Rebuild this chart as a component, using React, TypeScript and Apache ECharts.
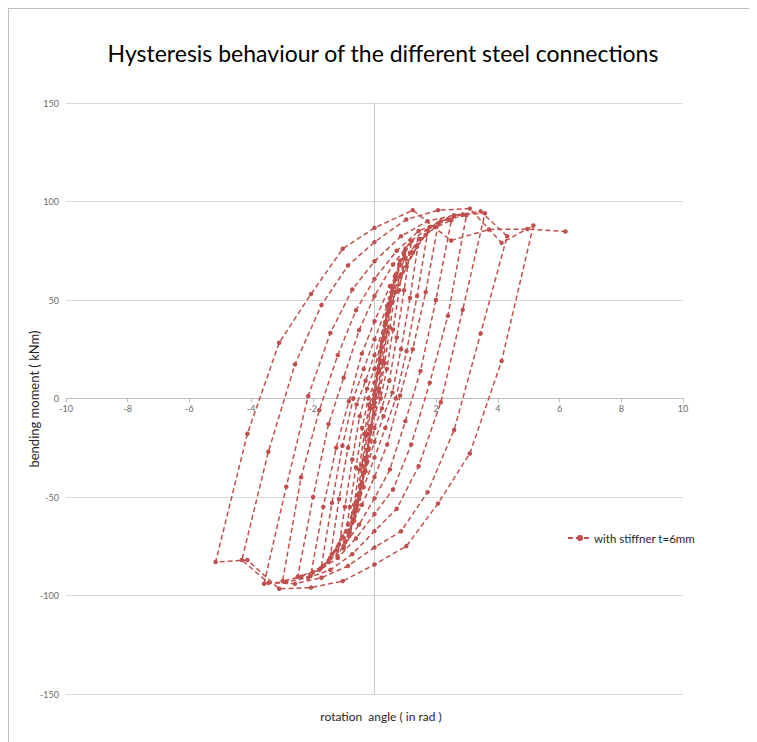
import React, { useEffect, useRef } from "react";
import * as echarts from "echarts";

// Rotation angle (x) and bending moment (y) for each loading cycle, in order.
// Each cycle: 0 -> +a -> -a -> 0 (5 + 10 + 5 displacement steps).
const cycleM = [
  [0.12, 13], [0.23, 26], [0.35, 38], [0.46, 48], [0.58, 56],
  [0.46, 44], [0.35, 31], [0.23, 18], [0.12, 5], [0, -2], [-0.12, -14], [-0.23, -26], [-0.35, -38], [-0.46, -48], [-0.58, -56],
  [-0.46, -44], [-0.35, -31], [-0.23, -18], [-0.12, -5], [0, 0],
];
const cycleL = [
  [0.14, 15], [0.28, 30], [0.41, 43], [0.55, 54], [0.69, 63],
  [0.55, 49], [0.41, 34], [0.28, 19], [0.14, 5], [0, -2], [-0.14, -16], [-0.28, -30], [-0.41, -43], [-0.55, -54], [-0.69, -62],
  [-0.55, -49], [-0.41, -34], [-0.28, -19], [-0.14, -5], [0, 2],
];
const cycleK = [
  [0.17, 20], [0.33, 37], [0.5, 51], [0.66, 62], [0.83, 70],
  [0.66, 54], [0.5, 36], [0.33, 18], [0.17, 3], [0, -4], [-0.17, -21], [-0.33, -37], [-0.5, -51], [-0.66, -62], [-0.83, -70],
  [-0.66, -54], [-0.5, -36], [-0.33, -18], [-0.17, -3], [0, 4],
];
const cycleJ = [
  [0.2, 24], [0.4, 42], [0.6, 57], [0.8, 68], [1.0, 76],
  [0.8, 55], [0.6, 35], [0.4, 15], [0.2, 0], [0, -8], [-0.2, -26], [-0.4, -43], [-0.6, -57], [-0.8, -68], [-1.0, -76],
  [-0.8, -55], [-0.6, -35], [-0.4, -15], [-0.2, 0], [0, 8],
];
const cycleI = [
  [0.24, 29], [0.48, 47], [0.72, 62], [0.96, 73], [1.2, 80],
  [0.96, 55], [0.72, 31], [0.48, 9], [0.24, -5], [0, -15], [-0.24, -32], [-0.48, -49], [-0.72, -63], [-0.96, -73], [-1.2, -80],
  [-0.96, -55], [-0.72, -31], [-0.48, -9], [-0.24, 5], [0, 15],
];
const cycleH = [
  [0.29, 33], [0.58, 49], [0.86, 63], [1.15, 74], [1.44, 81],
  [1.15, 51], [0.86, 25], [0.58, 3], [0.29, -9], [0, -22], [-0.29, -37], [-0.58, -52], [-0.86, -64], [-1.15, -74], [-1.44, -81],
  [-1.15, -51], [-0.86, -25], [-0.58, -3], [-0.29, 9], [0, 22],
];
const cycleG = [
  [0.35, 39], [0.69, 54], [1.04, 67], [1.38, 77], [1.73, 85],
  [1.38, 52], [1.04, 24], [0.69, 0], [0.35, -15], [0, -30], [-0.35, -45], [-0.69, -58], [-1.04, -70], [-1.38, -79], [-1.73, -86],
  [-1.38, -53], [-1.04, -24], [-0.69, 0], [-0.35, 15], [0, 30],
];
const cycleF = [
  [0.41, 47], [0.83, 62], [1.24, 74], [1.66, 83], [2.07, 89],
  [1.66, 54], [1.24, 25], [0.83, 1.5], [0.41, -23.4], [0, -39.8], [-0.41, -54], [-0.83, -67], [-1.24, -77], [-1.66, -85], [-2.07, -90],
  [-1.66, -55], [-1.24, -25], [-0.83, -1.4], [-0.41, 22.8], [0, 39.2],
];
const cycleE = [
  [0.5, 57], [1.0, 71], [1.49, 81], [1.99, 87], [2.49, 90.4],
  [1.99, 50], [1.49, 14], [1.0, -11.5], [0.5, -36], [0, -50.7], [-0.5, -64], [-1.0, -75], [-1.49, -83], [-1.99, -88], [-2.49, -90.5],
  [-1.99, -50], [-1.49, -13], [-1.0, 10.5], [-0.5, 34.7], [0, 52],
];
const cycleD = [
  [0.6, 68], [1.19, 80], [1.79, 87], [2.38, 91], [2.98, 93],
  [2.38, 42], [1.79, 8], [1.19, -23.4], [0.6, -46.2], [0, -58.6], [-0.6, -71], [-1.19, -81], [-1.79, -87], [-2.38, -90.5], [-2.98, -92.7],
  [-2.38, -40], [-1.79, -6], [-1.19, 22], [-0.6, 44.8], [0, 60.7],
];
const cycleC = [
  [0.72, 75], [1.43, 85], [2.15, 90], [2.86, 93.4], [3.58, 94],
  [2.86, 45], [2.15, -1.9], [1.43, -34.4], [0.72, -56], [0, -67.3], [-0.72, -79], [-1.43, -87], [-2.15, -91], [-2.86, -93], [-3.58, -94],
  [-2.86, -44.8], [-2.15, 1.2], [-1.43, 33.3], [-0.72, 55.3], [0, 69.7],
];
const cycleB = [
  [0.86, 82.4], [1.72, 90], [2.58, 93], [3.44, 95], [4.3, 82.4],
  [3.44, 33], [2.58, -16], [1.72, -47.6], [0.86, -67.4], [0, -75.6], [-0.86, -85], [-1.72, -91], [-2.58, -94], [-3.44, -93.6], [-4.3, -82],
  [-3.44, -27], [-2.58, 17.3], [-1.72, 47.4], [-0.86, 67.5], [0, 79.4],
];
const cycleA = [
  [1.03, 90.9], [2.06, 95.6], [3.09, 96.4], [4.12, 79], [5.15, 87.8],
  [4.12, 19], [3.09, -27.9], [2.06, -53.3], [1.03, -75], [0, -84.3], [-1.03, -92.7], [-2.06, -96], [-3.09, -96.6], [-4.12, -82], [-5.15, -83],
  [-4.12, -17.9], [-3.09, 28.3], [-2.06, 53], [-1.03, 76], [0, 86.6],
];
const finalRun = [
  [1.24, 95.6], [2.48, 80.2], [3.71, 85.8], [4.95, 86], [6.19, 84.8],
];

const seriesName = "with stiffner t=6mm";
const titleText = "Hysteresis behaviour of the different steel connections";
const xAxisTitle = "rotation  angle ( in rad )";
const yAxisTitle = "bending moment ( kNm)";
const xRange = { min: -10, max: 10, interval: 2 };
const yRange = { min: -150, max: 150, interval: 50 };

const FONT = "Lato";
const RED = "#c0504d";

// grid box (px inside the chart div)
const GRID_TOP = 94;
const GRID_BOTTOM = 48;
const CHART_H = 733;

export default function App() {
  const ref = useRef<HTMLDivElement>(null);

  useEffect(() => {
    if (!ref.current) return;
    const chart = echarts.init(ref.current, null, { renderer: "svg" });
    const data = [
      [0, 0],
      ...cycleM, ...cycleL, ...cycleK, ...cycleJ, ...cycleI, ...cycleH, ...cycleG,
      ...cycleF, ...cycleE, ...cycleD, ...cycleC, ...cycleB, ...cycleA, ...finalRun,
    ];
    const gridH = CHART_H - GRID_TOP - GRID_BOTTOM;
    // the horizontal axis crosses the vertical one at moment = 0
    const zeroOffset = -gridH * (0 - yRange.min) / (yRange.max - yRange.min);
    chart.setOption({
      animation: false,
      backgroundColor: "#ffffff",
      textStyle: { fontFamily: FONT },
      title: {
        text: titleText,
        left: "center",
        top: 27,
        textStyle: { fontFamily: FONT, fontSize: 23, fontWeight: "normal", color: "#000000" },
      },
      grid: { left: 57, right: 74, top: GRID_TOP, bottom: GRID_BOTTOM, containLabel: false },
      xAxis: {
        type: "value",
        position: "bottom",
        offset: zeroOffset,
        min: xRange.min,
        max: xRange.max,
        interval: xRange.interval,
        axisLine: { show: true, onZero: false, lineStyle: { color: "#bfbfbf", width: 1 } },
        axisTick: { show: true, length: 4, lineStyle: { color: "#bfbfbf" } },
        axisLabel: { fontSize: 9, color: "#6b6b6b", margin: 5, fontFamily: FONT, showMinLabel: true, showMaxLabel: true },
        splitLine: { show: false },
      },
      yAxis: {
        type: "value",
        min: yRange.min,
        max: yRange.max,
        interval: yRange.interval,
        axisLine: { show: false, onZero: false },
        axisTick: { show: false },
        axisLabel: { fontSize: 9, color: "#6b6b6b", margin: 7, fontFamily: FONT },
        splitLine: { show: true, lineStyle: { color: "#d9d9d9", width: 1 } },
      },
      legend: {
        data: [seriesName],
        left: 553,
        top: 518,
        itemWidth: 24,
        itemHeight: 8,
        itemGap: 4,
        textStyle: { fontFamily: FONT, fontSize: 11.5, color: "#262626", padding: [0, 0, 0, -3] },
      },
      graphic: [
        {
          type: "text",
          x: 372,
          y: 707,
          style: {
            text: xAxisTitle,
            fontFamily: FONT,
            fontSize: 12,
            fill: "#262626",
            textAlign: "center",
            textVerticalAlign: "middle",
          },
        },
        {
          type: "text",
          x: 25,
          y: 390,
          rotation: Math.PI / 2,
          style: {
            text: yAxisTitle,
            fontFamily: FONT,
            fontSize: 13,
            fill: "#262626",
            textAlign: "center",
            textVerticalAlign: "middle",
          },
        },
      ],
      series: [
        {
          name: "zeroLine",
          type: "line",
          data: [[0, yRange.min], [0, yRange.max]],
          symbol: "none",
          silent: true,
          z: 1,
          lineStyle: { color: "#c8c8c8", width: 1, type: "solid" },
        },
        {
          name: seriesName,
          type: "line",
          data,
          z: 3,
          symbol: "circle",
          symbolSize: 4.5,
          showSymbol: true,
          smooth: false,
          itemStyle: { color: RED },
          lineStyle: { color: RED, width: 1.5, type: [5, 3] },
        },
      ],
    });
    return () => chart.dispose();
  }, []);

  return (
    <div
      style={{
        width: 749,
        height: 734,
        borderLeft: "1px solid #bfbfbf",
        borderTop: "1px solid #bfbfbf",
        boxSizing: "border-box",
        background: "#ffffff",
      }}
    >
      <div ref={ref} style={{ width: 748, height: CHART_H }} />
    </div>
  );
}
